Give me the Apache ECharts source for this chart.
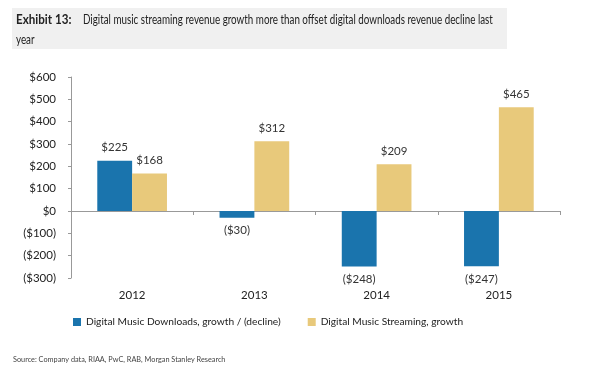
<!DOCTYPE html>
<html><head><meta charset="utf-8">
<script src="https://cdn.jsdelivr.net/npm/echarts@6/dist/echarts.min.js"></script>
<style>html,body{margin:0;padding:0;background:#fff}#c{width:600px;height:371px}</style>
</head><body><div id="c"></div>
<script>
var categories = ['2012', '2013', '2014', '2015'];
var downloads = [225, -30, -248, -247];
var streaming = [168, 312, 209, 465];
var seriesNames = ['Digital Music Downloads, growth / (decline)', 'Digital Music Streaming, growth'];
var yTicks = {min: -300, max: 600, interval: 100};
var titleBold = 'Exhibit 13:';
var titleLine1 = 'Digital music streaming revenue growth more than offset digital downloads revenue decline last';
var titleLine2 = 'year';
var sourceText = 'Source: Company data, RIAA, PwC, RAB, Morgan Stanley Research';

function money(v) { return v < 0 ? '($' + Math.abs(v) + ')' : '$' + v; }
var FONT = 'Lato';
var FS = 11.5;
function withLabels(arr) {
  return arr.map(function (v) {
    return {value: v, label: {position: v < 0 ? 'bottom' : 'top'}};
  });
}
var chart = echarts.init(document.getElementById('c'));
chart.setOption({
  animation: false,
  textStyle: {fontFamily: FONT},
  graphic: [
    {type: 'rect', shape: {x: 12, y: 8, width: 495, height: 41}, style: {fill: '#f0f0f0'}},
    {type: 'text', x: 16, y: 13, scaleX: 0.93, style: {text: titleBold, font: 'bold 12.5px ' + FONT, fill: '#222'}},
    {type: 'text', x: 83, y: 13, scaleX: 0.785, style: {text: titleLine1, font: '12.5px ' + FONT, fill: '#222'}},
    {type: 'text', x: 16, y: 33, scaleX: 0.785, style: {text: titleLine2, font: '12.5px ' + FONT, fill: '#222'}},
    {type: 'text', x: 13, y: 356, style: {text: sourceText, font: '7.3px ' + FONT, fill: '#444'}}
  ],
  legend: {
    left: 73, top: 317, padding: 0, itemWidth: 8, itemHeight: 8, itemGap: 27, icon: 'rect',
    textStyle: {fontSize: 10.2, color: '#222', fontFamily: FONT},
    data: seriesNames
  },
  grid: {left: 71, right: 40, top: 77, bottom: 93, containLabel: false},
  xAxis: [
    {type: 'category', data: categories,
     axisLine: {onZero: true, lineStyle: {color: '#999'}},
     axisTick: {show: true, length: 4, lineStyle: {color: '#999'}},
     axisLabel: {show: false}},
    {type: 'category', data: categories, position: 'bottom',
     axisLine: {show: false, onZero: false}, axisTick: {show: false},
     axisLabel: {fontSize: FS, color: '#222', margin: 11, fontFamily: FONT}}
  ],
  yAxis: {
    type: 'value', min: yTicks.min, max: yTicks.max, interval: yTicks.interval,
    splitLine: {show: false},
    axisLine: {show: true, lineStyle: {color: '#999'}},
    axisTick: {show: true, length: 3, lineStyle: {color: '#999'}},
    axisLabel: {fontSize: FS, color: '#222', margin: 15, formatter: money, fontFamily: FONT}
  },
  series: [
    {name: seriesNames[0], type: 'bar', data: withLabels(downloads), xAxisIndex: 0,
     barGap: '0%', barCategoryGap: '43%',
     itemStyle: {color: '#1a74ad'},
     label: {show: true, distance: 7, fontSize: FS, color: '#333', fontFamily: FONT,
       formatter: function(p){return money(p.value);}}},
    {name: seriesNames[1], type: 'bar', data: withLabels(streaming), xAxisIndex: 0,
     barGap: '0%', barCategoryGap: '43%',
     itemStyle: {color: '#e8c97b'},
     label: {show: true, distance: 7, fontSize: FS, color: '#333', fontFamily: FONT,
       formatter: function(p){return money(p.value);}}}
  ]
});
</script></body></html>
